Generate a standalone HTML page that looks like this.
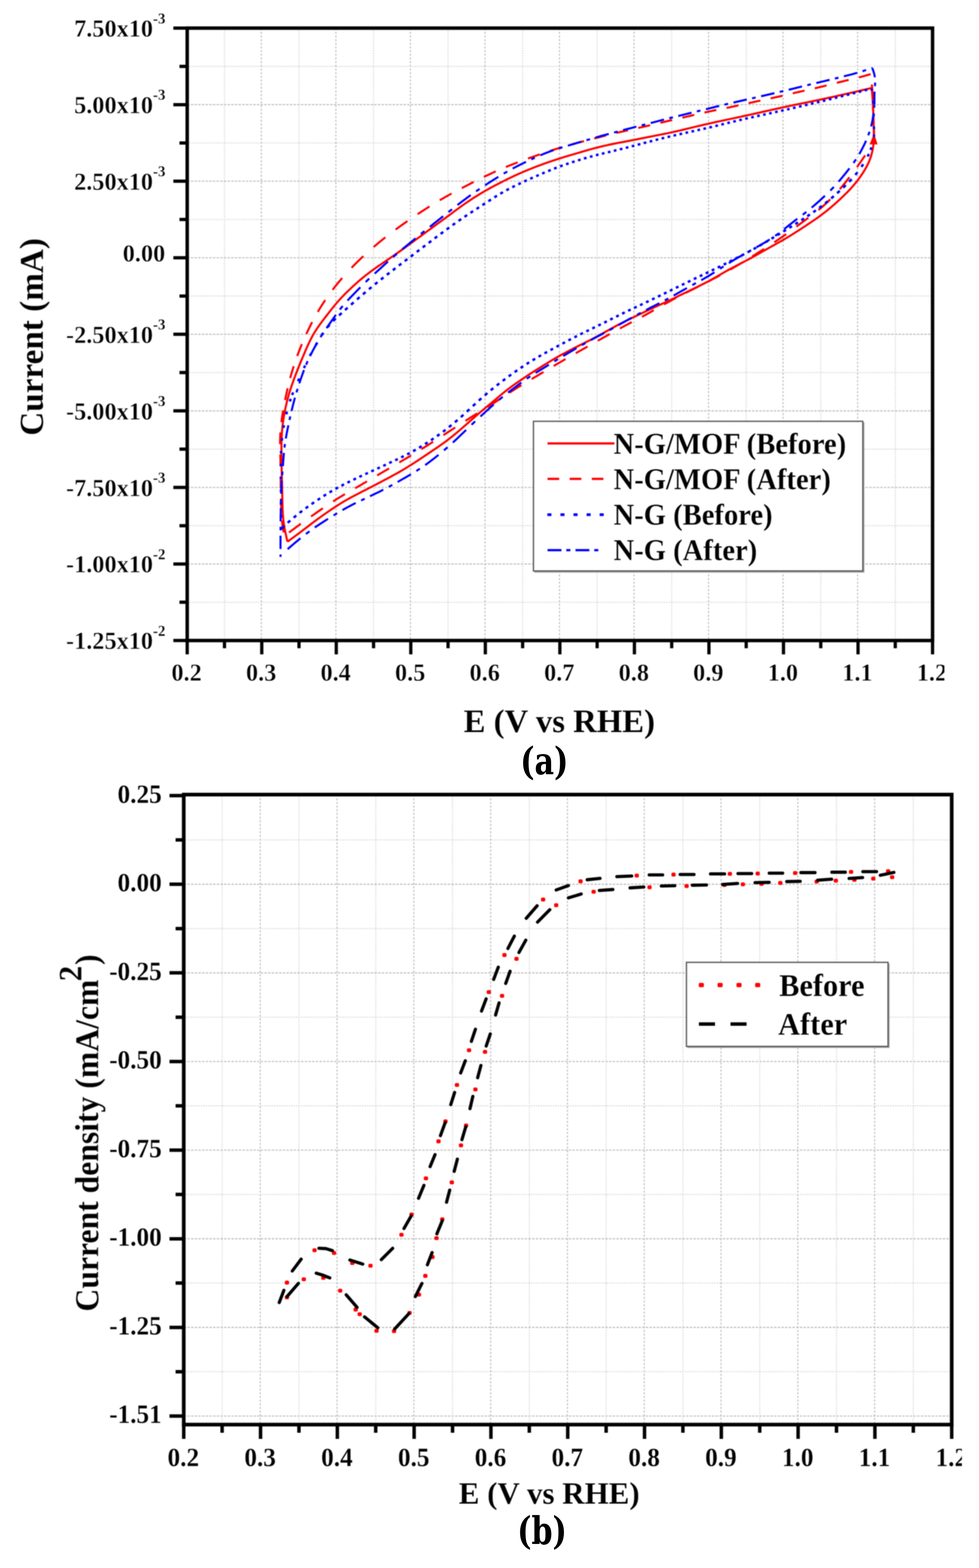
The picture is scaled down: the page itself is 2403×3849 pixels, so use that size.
<!DOCTYPE html>
<html lang="en"><head><meta charset="utf-8"><title>Figure: CV and LSV curves before and after</title>
<style>html,body{margin:0;padding:0;background:#fff}body{width:2403px;height:3849px;overflow:hidden}svg{display:block}text{font-family:'Liberation Serif', 'DejaVu Serif', serif;font-weight:bold;fill:#000}.tk text{stroke:#fff;stroke-width:0.8px}.tk.b text{stroke-width:0.35px}.tk tspan{stroke-width:0.4px}.lg text{stroke:#fff;stroke-width:0.4px}.tt{stroke:#fff;stroke-width:0.25px}</style></head><body>
<svg width="2403" height="3849" viewBox="0 0 2403 3849" role="img" aria-label="Cyclic voltammetry (a) and linear sweep voltammetry (b) curves">
<defs><filter id="bl" x="-2%" y="-2%" width="104%" height="104%" color-interpolation-filters="sRGB"><feGaussianBlur stdDeviation="0.8"/></filter></defs>
<rect width="2403" height="3849" fill="#fff"/>
<g id="chart-a" filter="url(#bl)">
<path d="M551 69V1572.3M733.9 69V1572.3M916.9 69V1572.3M1099.8 69V1572.3M1282.8 69V1572.3M1465.7 69V1572.3M1648.7 69V1572.3M1831.6 69V1572.3M2014.6 69V1572.3M2197.5 69V1572.3M459.5 163H2289M459.5 350.9H2289M459.5 538.8H2289M459.5 726.7H2289M459.5 914.6H2289M459.5 1102.5H2289M459.5 1290.4H2289M459.5 1478.3H2289" fill="none" stroke="#d8d8d8" stroke-width="2.8" stroke-dasharray="3 3"/>
<path d="M641.5 69V1572.3M824.4 69V1572.3M1007.3 69V1572.3M1190.3 69V1572.3M1373.2 69V1572.3M1556.2 69V1572.3M1739.1 69V1572.3M1922.1 69V1572.3M2105.1 69V1572.3" fill="none" stroke="#bebebe" stroke-width="2.6" stroke-dasharray="5 4"/>
<path d="M459.5 256.9H2289M459.5 444.8H2289M459.5 632.7H2289M459.5 820.6H2289M459.5 1008.6H2289M459.5 1196.5H2289M459.5 1384.4H2289" fill="none" stroke="#bebebe" stroke-width="2.6" stroke-dasharray="6 3"/>
<path d="M705.6 1329.8 L704.2 1323.7 L702.8 1317.5 L701.5 1311.5 L700.2 1305.4 L699 1299.4 L698 1293.4 L697 1287.4 L696.2 1281.3 L695.4 1275.3 L694.8 1269.2 L694.3 1263.1 L694 1256.9 L693.7 1250.8 L693.5 1244.6 L693.3 1238.4 L693.2 1232.2 L693 1226 L692.9 1219.9 L692.8 1213.8 L692.7 1207.8 L692.6 1201.7 L692.4 1195.7 L692.3 1189.6 L692.1 1183.4 L691.9 1177.2 L691.8 1171 L691.6 1164.7 L691.5 1158.4 L691.3 1152 L691.2 1145.7 L691.1 1139.3 L691 1133 L690.9 1126.7 L690.9 1120.5 L690.8 1114.2 L690.8 1108.1 L690.8 1102 L690.8 1095.9 L690.9 1089.8 L691 1083.8 L691.2 1077.8 L691.4 1071.8 L691.7 1065.8 L692.1 1059.8 L692.7 1053.7 L693.3 1047.6 L694 1041.5 L694.8 1035.4 L695.7 1029.2 L696.7 1023.1 L697.8 1016.9 L698.9 1010.7 L700.1 1004.6 L701.4 998.5 L702.8 992.4 L704.2 986.3 L705.7 980.3 L707.4 974.3 L709 968.4 L710.8 962.4 L712.7 956.5 L714.6 950.6 L716.6 944.7 L718.7 938.8 L720.8 932.9 L723 927 L725.2 921.2 L727.4 915.3 L729.7 909.4 L732 903.5 L734.4 897.6 L736.8 891.7 L739.2 885.8 L741.7 879.9 L744.1 874.1 L746.6 868.4 L749 862.6 L751.5 857 L753.9 851.4 L756.4 845.9 L759 840.5 L761.6 835.1 L764.3 829.8 L767.1 824.5 L770.1 819.3 L773.3 814 L776.6 808.8 L780.1 803.6 L783.7 798.5 L787.4 793.4 L791.2 788.3 L795 783.3 L798.7 778.4 L802.5 773.6 L806.1 768.9 L809.7 764.2 L813.3 759.7 L816.9 755.2 L820.5 750.8 L824.1 746.5 L827.8 742.1 L831.7 737.7 L835.6 733.4 L839.8 728.9 L844 724.5 L848.4 720.1 L852.9 715.6 L857.5 711.2 L862.2 706.7 L866.8 702.4 L871.6 698.1 L876.3 693.8 L881 689.7 L885.7 685.7 L890.5 681.8 L895.2 677.9 L900 674.1 L904.8 670.4 L909.7 666.7 L914.6 663.1 L919.6 659.5 L924.6 656 L929.7 652.4 L934.8 649 L939.9 645.5 L945 642 L950 638.6 L955.1 635.1 L960.1 631.7 L965.1 628.3 L970.1 624.8 L975 621.3 L979.9 617.9 L984.8 614.4 L989.7 610.9 L994.5 607.4 L999.4 603.8 L1004.2 600.3 L1009.1 596.7 L1014 593.2 L1018.8 589.6 L1023.7 586 L1028.6 582.4 L1033.5 578.9 L1038.4 575.3 L1043.3 571.7 L1048.2 568.1 L1053.1 564.5 L1058 560.9 L1062.9 557.3 L1067.9 553.7 L1072.8 550.1 L1077.7 546.5 L1082.6 542.9 L1087.5 539.3 L1092.5 535.7 L1097.4 532.1 L1102.3 528.5 L1107.1 524.9 L1112 521.2 L1116.9 517.6 L1121.8 514 L1126.7 510.4 L1131.6 506.8 L1136.6 503.3 L1141.6 499.8 L1146.6 496.3 L1151.7 492.9 L1156.7 489.6 L1161.8 486.2 L1167 483 L1172.1 479.8 L1177.3 476.6 L1182.5 473.5 L1187.7 470.4 L1192.9 467.4 L1198.2 464.5 L1203.4 461.5 L1208.7 458.6 L1214.1 455.8 L1219.4 453 L1224.8 450.2 L1230.3 447.4 L1235.7 444.6 L1241.2 441.9 L1246.8 439.1 L1252.4 436.4 L1258 433.8 L1263.7 431.1 L1269.3 428.5 L1275 426 L1280.7 423.5 L1286.4 421 L1292.2 418.6 L1297.9 416.3 L1303.6 414 L1309.2 411.7 L1314.9 409.5 L1320.6 407.4 L1326.2 405.3 L1331.9 403.2 L1337.5 401.2 L1343.2 399.1 L1348.9 397.2 L1354.6 395.2 L1360.4 393.3 L1366.3 391.3 L1372.2 389.5 L1378.1 387.6 L1384 385.7 L1390 383.9 L1396 382.1 L1402 380.3 L1408 378.6 L1414 376.8 L1419.9 375.1 L1425.7 373.3 L1431.5 371.6 L1437.3 370 L1443 368.3 L1448.7 366.7 L1454.4 365.2 L1460.1 363.6 L1465.9 362.2 L1471.6 360.7 L1477.5 359.3 L1483.4 357.9 L1489.3 356.6 L1495.4 355.3 L1501.4 354 L1507.5 352.7 L1513.6 351.5 L1519.7 350.3 L1525.9 349.2 L1532 348 L1538 346.8 L1544.1 345.7 L1550.1 344.5 L1556.2 343.4 L1562.2 342.2 L1568.1 341 L1574 339.8 L1579.9 338.7 L1585.7 337.5 L1591.5 336.3 L1597.2 335.2 L1603 334.1 L1608.8 332.9 L1614.7 331.8 L1620.5 330.6 L1626.4 329.5 L1632.3 328.3 L1638.2 327.1 L1644 325.9 L1649.9 324.6 L1655.8 323.3 L1661.7 322 L1667.6 320.6 L1673.5 319.2 L1679.4 317.8 L1685.4 316.3 L1691.4 314.9 L1697.5 313.4 L1703.6 311.9 L1709.8 310.4 L1716.1 309 L1722.3 307.5 L1728.5 306 L1734.6 304.6 L1740.7 303.2 L1746.8 301.9 L1752.8 300.5 L1758.7 299.2 L1764.7 297.9 L1770.6 296.7 L1776.5 295.4 L1782.4 294.1 L1788.4 292.9 L1794.3 291.6 L1800.2 290.4 L1806.1 289.1 L1812.1 287.8 L1818 286.6 L1823.9 285.3 L1829.8 284 L1835.7 282.7 L1841.6 281.4 L1847.5 280.1 L1853.3 278.8 L1859.2 277.5 L1865.1 276.2 L1870.9 274.8 L1876.8 273.5 L1882.6 272.2 L1888.5 270.9 L1894.3 269.6 L1900.2 268.3 L1906.1 267 L1912.1 265.7 L1918.1 264.4 L1924.1 263.1 L1930.3 261.7 L1936.5 260.4 L1942.7 259.1 L1949 257.8 L1955.2 256.5 L1961.5 255.2 L1967.7 253.9 L1973.9 252.7 L1980 251.4 L1986 250.2 L1992 248.9 L1998 247.7 L2003.9 246.4 L2009.8 245.2 L2015.7 244 L2021.5 242.7 L2027.4 241.5 L2033.1 240.2 L2038.9 239 L2044.7 237.7 L2050.5 236.4 L2056.3 235.1 L2062.2 233.8 L2068.1 232.5 L2074.1 231.1 L2080.1 229.8 L2086.2 228.4 L2092.4 227 L2098.5 225.6 L2104.6 224.1 L2110.7 222.7 L2116.6 221.3 L2122.5 220 L2128.2 218.6 L2133.9 217.3 L2139.5 216 L2140 221.7 L2140.6 227.4 L2141.1 233.1 L2141.5 238.9 L2141.9 244.9 L2142.3 250.9 L2142.7 257.1 L2143 263.3 L2143.2 269.5 L2143.5 275.7 L2143.7 281.9 L2144 288 L2144.2 294.1 L2144.4 300.2 L2144.6 306.2 L2144.8 312.2 L2145 318.2 L2145.1 324.1 L2145.2 330.1 L2145.4 336 L2145.1 342 L2144.6 348 L2144 354 L2143.2 360.1 L2142.2 366.1 L2141 372.1 L2139.5 378.1 L2137.8 384.1 L2135.7 390 L2133.4 395.9 L2130.8 401.7 L2128 407.4 L2124.9 412.9 L2121.7 418.4 L2118.4 423.8 L2114.9 429 L2111.4 434.2 L2107.7 439.2 L2104 444.2 L2100.1 449 L2096.2 453.7 L2092.2 458.4 L2088.1 463 L2083.8 467.5 L2079.5 471.9 L2075.1 476.3 L2070.7 480.7 L2066.1 485 L2061.6 489.4 L2056.9 493.6 L2052.2 497.9 L2047.5 502.1 L2042.7 506.2 L2038 510.3 L2033.1 514.3 L2028.3 518.2 L2023.4 522.1 L2018.5 525.8 L2013.5 529.5 L2008.5 533.2 L2003.5 536.8 L1998.4 540.3 L1993.3 543.8 L1988.1 547.3 L1982.9 550.7 L1977.7 554.2 L1972.5 557.6 L1967.3 561 L1962.2 564.3 L1957 567.6 L1951.9 570.9 L1946.8 574.1 L1941.7 577.3 L1936.6 580.5 L1931.4 583.6 L1926.2 586.7 L1920.9 589.7 L1915.5 592.8 L1910.1 595.8 L1904.6 598.9 L1899.1 602 L1893.6 605 L1888.1 608.1 L1882.6 611.2 L1877.2 614.2 L1871.9 617.3 L1866.6 620.3 L1861.3 623.3 L1856 626.3 L1850.7 629.3 L1845.4 632.3 L1840 635.2 L1834.6 638.1 L1829.2 640.9 L1823.7 643.8 L1818.2 646.6 L1812.7 649.4 L1807.2 652.2 L1801.8 655.1 L1796.5 657.9 L1791.2 660.8 L1785.9 663.7 L1780.7 666.6 L1775.5 669.6 L1770.3 672.6 L1765.1 675.7 L1759.8 678.7 L1754.5 681.8 L1749.1 684.8 L1743.6 687.9 L1738.1 690.9 L1732.5 693.8 L1726.8 696.7 L1721 699.6 L1715.3 702.4 L1709.5 705.2 L1703.8 708 L1698.1 710.7 L1692.4 713.4 L1686.8 716.2 L1681.2 718.9 L1675.8 721.6 L1670.4 724.2 L1665.1 726.8 L1659.9 729.4 L1654.7 731.9 L1649.5 734.4 L1644.3 736.9 L1639 739.3 L1633.8 741.7 L1628.5 744.2 L1623.1 746.6 L1617.6 749.1 L1612.1 751.6 L1606.4 754.2 L1600.7 756.9 L1595 759.6 L1589.3 762.3 L1583.5 765 L1577.7 767.8 L1572 770.5 L1566.3 773.2 L1560.7 775.9 L1555.1 778.6 L1549.6 781.3 L1544.1 783.9 L1538.7 786.6 L1533.3 789.2 L1528 791.9 L1522.6 794.7 L1517.2 797.5 L1511.9 800.3 L1506.5 803.2 L1501.1 806.2 L1495.7 809.2 L1490.3 812.2 L1484.9 815.2 L1479.5 818.2 L1474.1 821.2 L1468.7 824.2 L1463.3 827 L1457.9 829.9 L1452.6 832.7 L1447.2 835.4 L1441.9 838.1 L1436.5 840.8 L1431.1 843.6 L1425.6 846.3 L1420.1 849 L1414.7 851.8 L1409.1 854.6 L1403.6 857.4 L1398.1 860.3 L1392.6 863.2 L1387.1 866.1 L1381.6 869 L1376.1 872 L1370.7 875 L1365.4 878 L1360.1 881.1 L1354.9 884.2 L1349.7 887.3 L1344.6 890.4 L1339.5 893.6 L1334.4 896.7 L1329.4 899.9 L1324.3 903.1 L1319.3 906.2 L1314.2 909.4 L1309.1 912.7 L1304 915.9 L1298.9 919.2 L1293.7 922.6 L1288.5 926.1 L1283.3 929.6 L1278.1 933.1 L1272.8 936.7 L1267.6 940.4 L1262.4 944 L1257.3 947.7 L1252.3 951.4 L1247.4 955.1 L1242.7 958.7 L1238.1 962.4 L1233.6 966 L1229.1 969.7 L1224.7 973.4 L1220.3 977.1 L1215.9 980.8 L1211.4 984.6 L1206.9 988.4 L1202.2 992.3 L1197.6 996.2 L1192.8 1000.1 L1188.1 1004.1 L1183.3 1008.1 L1178.6 1012.1 L1173.8 1016.2 L1169.2 1020.2 L1164.5 1024.3 L1159.9 1028.4 L1155.2 1032.5 L1150.6 1036.5 L1146 1040.6 L1141.3 1044.7 L1136.6 1048.8 L1132 1052.8 L1127.3 1056.8 L1122.6 1060.8 L1117.9 1064.8 L1113.1 1068.7 L1108.4 1072.5 L1103.6 1076.3 L1098.8 1080 L1094 1083.7 L1089.1 1087.3 L1084.2 1090.8 L1079.2 1094.3 L1074.2 1097.8 L1069.1 1101.2 L1064 1104.7 L1058.8 1108.1 L1053.7 1111.6 L1048.4 1115.1 L1043.2 1118.6 L1038 1122.1 L1032.7 1125.6 L1027.5 1129.1 L1022.2 1132.6 L1017 1136 L1011.7 1139.4 L1006.5 1142.7 L1001.2 1146 L996 1149.2 L990.7 1152.4 L985.5 1155.4 L980.2 1158.5 L974.9 1161.5 L969.6 1164.4 L964.2 1167.3 L958.9 1170.2 L953.5 1173.1 L948.2 1176 L942.8 1178.8 L937.5 1181.6 L932.1 1184.5 L926.7 1187.3 L921.3 1190.1 L915.9 1192.9 L910.5 1195.8 L905 1198.6 L899.5 1201.4 L893.9 1204.3 L888.3 1207.1 L882.8 1210 L877.2 1212.9 L871.7 1215.7 L866.2 1218.6 L860.8 1221.5 L855.5 1224.5 L850.2 1227.4 L845 1230.4 L840 1233.4 L835 1236.5 L830 1239.6 L825 1242.8 L820.1 1246.1 L815.1 1249.4 L810.1 1252.8 L805.1 1256.2 L800 1259.7 L794.9 1263.3 L789.7 1267 L784.6 1270.7 L779.4 1274.4 L774.3 1278.2 L769.2 1282 L764.2 1285.8 L759.2 1289.7 L754.2 1293.5 L749.2 1297.3 L744.3 1301 L739.4 1304.8 L734.5 1308.5 L729.7 1312.1 L724.8 1315.7 L720 1319.3 L715.2 1322.8 L710.4 1326.3 L705.6 1329.8" fill="none" stroke="#ff0000" stroke-width="5" stroke-linejoin="round"/>
<path d="M2145.3 327L2154 354.5H2134.5Z" fill="#ff0000"/>
<path d="M696.3 1307 L695 1299.8 L693.8 1292.5 L692.9 1285.3 L692.1 1278M690.4 1252.9 L690.2 1245.6 L689.9 1238.4 L689.7 1231.1 L689.6 1223.9M689.2 1198.7 L689.1 1191.5 L689 1184.2 L689 1177 L688.9 1169.7M688.6 1144.6 L688.5 1137.3 L688.4 1130.1 L688.2 1122.8 L688 1115.6M687.5 1090.4 L687.5 1083.2 L687.7 1075.9 L687.9 1068.7 L688.3 1061.4M690.7 1036.3 L691.6 1029 L692.6 1021.8 L693.8 1014.5 L695 1007.3M699.7 982.1 L701.2 974.9 L702.8 967.6 L704.4 960.4 L706.1 953.1M712.3 928 L714.3 920.7 L716.4 913.5 L718.6 906.2 L720.9 899M729.5 873.8 L732.2 866.6 L735 859.3 L737.9 852.1 L740.9 844.8M752 819.7 L755.4 812.4 L758.9 805.2 L762.5 797.9 L766.2 790.7M780.1 765.5 L784.4 758.3 L788.9 751 L793.5 743.8 L798.3 736.5M816.4 711.4 L822 704.1 L827.8 696.9 L833.8 689.6 L840 682.4M863 657.2 L870 650 L877.3 642.8 L884.5 635.7 L891.8 628.8M916.9 606.4 L924.2 600.3 L931.4 594.2 L938.7 588.4 L945.9 582.6M971.1 563.5 L978.3 558.2 L985.6 553 L992.8 547.9 L1000.1 542.8M1025.2 525.7 L1032.5 520.9 L1039.7 516.2 L1047 511.5 L1054.2 506.9M1079.4 491.5 L1086.6 487.3 L1093.9 483.1 L1101.1 479.1 L1108.4 475.1M1133.5 461.7 L1140.8 458 L1148 454.2 L1155.3 450.5 L1162.5 446.8M1187.7 434.3 L1194.9 430.8 L1202.2 427.4 L1209.4 424 L1216.7 420.8M1241.8 409.9 L1249.1 407 L1256.3 404.1 L1263.6 401.2 L1270.8 398.5M1296 389.2 L1303.2 386.6 L1310.5 384 L1317.7 381.5 L1325 378.9M1350.1 370.4 L1357.4 368.1 L1364.6 365.8 L1371.9 363.5 L1379.1 361.3M1404.3 354.1 L1411.5 352.2 L1418.8 350.2 L1426 348.3 L1433.3 346.3M1458.4 339.9 L1465.7 338 L1472.9 336.2 L1480.2 334.4 L1487.4 332.5M1512.6 326.4 L1519.8 324.6 L1527.1 323 L1534.3 321.3 L1541.6 319.7M1566.7 314.1 L1574 312.4 L1581.2 310.8 L1588.5 309.1 L1595.7 307.4M1620.9 301.4 L1628.1 299.7 L1635.4 298 L1642.6 296.3 L1649.9 294.6M1675 288.7 L1682.3 287.1 L1689.5 285.4 L1696.8 283.7 L1704 282M1729.2 276.2 L1736.4 274.6 L1743.7 273.1 L1750.9 271.5 L1758.2 270M1783.3 264.9 L1790.6 263.5 L1797.8 261.9 L1805.1 260.4 L1812.3 258.8M1837.5 253.2 L1844.7 251.6 L1852 250 L1859.2 248.4 L1866.5 246.9M1891.6 241.5 L1898.9 239.9 L1906.1 238.3 L1913.4 236.7 L1920.6 235M1945.8 229.1 L1953 227.4 L1960.3 225.7 L1967.5 224.1 L1974.8 222.4M1999.9 216.8 L2007.2 215.1 L2014.4 213.3 L2021.7 211.6 L2028.9 209.7M2054.1 203.3 L2061.3 201.5 L2068.6 199.7 L2075.8 197.9 L2083.1 196.2M2108.2 190 L2115.5 188.1 L2122.7 186.1 L2130 184 L2137 182.2M2140 207.4 L2140.6 214.6 L2141.1 221.9 L2141.5 229.1 L2141.8 236.4M2142.8 261.5 L2143.1 268.8 L2143.4 276 L2143.8 283.3 L2144.1 290.5M2145 315.7 L2145 322.9 L2144.9 330.2 L2144.6 337.4 L2144.3 344.7M2123.5 381.5 L2118.5 388.7 L2113.6 395.8 L2108.6 403 L2103.5 410.1M2084.9 435.3 L2079.3 442.5 L2073.5 449.8 L2067.5 457 L2061.3 464.3M2037.9 489.4 L2030.7 496.5 L2023.4 503.2 L2016.2 509.5 L2008.9 515.5M1983.8 534.8 L1976.5 540.2 L1969.3 545.5 L1962 550.9 L1954.8 556.3M1929.6 574.6 L1922.4 579.7 L1915.1 584.8 L1907.9 589.7 L1900.6 594.6M1875.5 611 L1868.2 615.6 L1861 620.2 L1853.7 624.8 L1846.5 629.3M1821.3 644.8 L1814.1 649.1 L1806.8 653.4 L1799.6 657.6 L1792.3 661.8M1767.2 675.8 L1759.9 679.7 L1752.7 683.6 L1745.4 687.4 L1738.2 691.2M1713 704 L1705.8 707.6 L1698.5 711.2 L1691.3 714.9 L1684 718.5M1658.9 731.4 L1651.6 735.3 L1644.4 739.2 L1637.1 743.2 L1629.9 747.2M1604.7 761.6 L1597.5 765.7 L1590.2 769.7 L1583 773.7 L1575.7 777.6M1550.6 790.8 L1543.3 794.7 L1536.1 798.5 L1528.8 802.4 L1521.6 806.4M1496.4 820.2 L1489.2 824.3 L1481.9 828.3 L1474.7 832.4 L1467.4 836.4M1442.3 850.6 L1435 854.7 L1427.8 858.8 L1420.5 862.9 L1413.3 867M1388.1 881.4 L1380.9 885.6 L1373.6 889.8 L1366.4 894 L1359.1 898.3M1334 913.2 L1326.7 917.5 L1319.5 921.8 L1312.2 926.1 L1305 930.4M1279.8 945.5 L1272.6 949.9 L1265.3 954.5 L1258.1 959.1 L1250.8 963.8M1225.7 980.3 L1218.4 985.1 L1211.2 989.8 L1203.9 994.4 L1196.7 999M1171.5 1014.6 L1164.3 1019.1 L1157 1023.7 L1149.8 1028.3 L1142.5 1033M1117.4 1049.3 L1110.1 1054 L1102.9 1058.7 L1095.6 1063.4 L1088.4 1068.2M1063.2 1084.4 L1056 1089 L1048.7 1093.6 L1041.5 1098.1 L1034.2 1102.6M1009.1 1117.9 L1001.8 1122.3 L994.6 1126.6 L987.3 1130.9 L980.1 1135.2M954.9 1150 L947.7 1154.2 L940.4 1158.4 L933.2 1162.7 L925.9 1167M900.8 1181.7 L893.5 1185.9 L886.3 1190.1 L879 1194.3 L871.8 1198.4M846.6 1212.9 L839.4 1217.3 L832.1 1221.7 L824.9 1226.2 L817.6 1230.8M792.5 1247.6 L785.2 1252.6 L778 1257.6 L770.7 1262.7 L763.5 1267.8M738.3 1285.8 L731.1 1291.1 L723.8 1296.4 L716.6 1301.8 L709.3 1307.3" fill="none" stroke="#ff0000" stroke-width="5"/>
<path d="M689.6 1299 L689.6 1295.8M689.6 1270.7 L689.6 1264.3M689.6 1239.2 L689.6 1232.8M689.6 1207.7 L689.6 1201.3M689.5 1176.2 L689.5 1169.8M689.4 1144.7 L689.4 1138.3M689.8 1113.2 L690 1106.8M691.6 1081.7 L692.3 1075.3M695.8 1050.2 L696.9 1043.8M702.8 1017 L704.3 1010.5M711.5 985.5 L713.6 979M717 969.6 L719.5 963.2M731.4 935.8 L734.3 929.4M746 903.5 L749 897.2M760.5 873.8 L763.9 867.4M775 847.3 L778.7 840.9M789.4 823.2 L793.7 816.8M803.5 803.7 L809 797.3M817.6 788.1 L824 781.9M832.3 774.2 L838.7 768.4M846.9 761 L853.3 755.4M861.6 748 L868 742.3M876.3 735 L882.7 729.6M890.9 722.5 L897.3 717.1M905.6 710.1 L912 704.8M920.2 697.9 L926.6 692.7M934.9 686.1 L941.3 681.1M949.6 674.6 L956 669.7M964.2 663.3 L970.6 658.4M978.9 652 L985.3 647.1M993.5 640.8 L999.9 636M1008.2 629.7 L1014.6 624.8M1022.9 618.5 L1029.3 613.6M1037.5 607.4 L1043.9 602.5M1052.2 596.3 L1058.6 591.4M1066.8 585.2 L1073.2 580.4M1081.5 574.2 L1087.9 569.4M1096.2 563.3 L1102.6 558.6M1110.8 552.6 L1117.2 548.1M1125.5 542.2 L1131.9 537.8M1140.1 532.2 L1146.5 527.9M1154.8 522.4 L1161.2 518.3M1169.5 512.9 L1175.9 508.8M1184.1 503.4 L1190.5 499.3M1198.8 493.9 L1205.2 489.8M1213.4 484.5 L1219.8 480.5M1228.1 475.5 L1234.5 471.8M1242.8 467.2 L1249.2 463.7M1257.4 459.5 L1263.8 456.3M1272.1 452.3 L1278.5 449.3M1286.7 445.5 L1293.1 442.5M1301.4 438.8 L1307.8 436M1316.1 432.4 L1322.5 429.6M1330.7 426.1 L1337.1 423.4M1345.4 419.9 L1351.8 417.3M1360 414 L1366.4 411.5M1374.7 408.4 L1381.1 406.1M1389.4 403.3 L1395.8 401.1M1404 398.4 L1410.4 396.3M1418.7 393.7 L1425.1 391.7M1433.3 389.2 L1439.7 387.3M1448 385 L1454.4 383.3M1462.7 381.1 L1469.1 379.4M1477.3 377.4 L1483.7 375.8M1492 373.8 L1498.4 372.3M1506.6 370.3 L1513 368.7M1521.3 366.7 L1527.7 365.1M1536 363 L1542.4 361.3M1550.6 359.2 L1557 357.5M1565.3 355.3 L1571.7 353.6M1579.9 351.3 L1586.3 349.6M1594.6 347.4 L1601 345.8M1609.3 343.6 L1615.7 342M1623.9 339.9 L1630.3 338.4M1638.6 336.4 L1645 334.8M1653.2 332.9 L1659.6 331.4M1667.9 329.5 L1674.3 328.1M1682.6 326.2 L1689 324.8M1697.2 322.9 L1703.6 321.5M1711.9 319.6 L1718.3 318.2M1726.5 316.3 L1732.9 314.8M1741.2 312.9 L1747.6 311.3M1755.9 309.4 L1762.3 307.8M1770.5 305.8 L1776.9 304.2M1785.2 302.2 L1791.6 300.6M1799.8 298.6 L1806.2 297.1M1814.5 295.1 L1820.9 293.6M1829.2 291.6 L1835.6 290.1M1843.8 288.3 L1850.2 286.8M1858.5 285 L1864.9 283.6M1873.1 281.8 L1879.5 280.4M1887.8 278.6 L1894.2 277.2M1902.5 275.4 L1908.9 273.9M1917.1 272.1 L1923.5 270.6M1931.8 268.7 L1938.2 267.3M1946.4 265.4 L1952.8 263.9M1961.1 261.9 L1967.5 260.4M1975.8 258.5 L1982.2 256.9M1990.4 255 L1996.8 253.4M2005.1 251.4 L2011.5 249.9M2019.7 247.9 L2026.1 246.3M2034.4 244.2 L2040.8 242.6M2049.1 240.6 L2055.5 238.9M2063.7 236.9 L2070.1 235.2M2078.4 233.2 L2084.8 231.6M2093 229.5 L2099.4 227.9M2107.7 225.7 L2114.1 224.1M2122.4 221.9 L2128.8 220.2M2138.8 217.5 L2140.6 222.4M2142.9 247.5 L2143.3 253.9M2144.4 279 L2144.5 285.4M2145.1 310.5 L2145.2 316.9M2145.4 330.1 L2145.4 333.3M2145.4 333.3 L2144.8 336.5M2139 361.6 L2136.9 368M2132.8 377.9 L2129.7 384.3M2118.8 403.2 L2114.5 409.6M2104.6 423 L2099.4 429.4M2090.3 439.8 L2084.3 446.2M2075.9 454.6 L2069.5 460.7M2061.2 468.4 L2054.8 474.2M2046.6 481.5 L2040.2 487M2031.9 494 L2025.5 499.1M2017.2 505.6 L2010.8 510.4M2002.6 516.4 L1996.2 520.9M1987.9 526.5 L1981.5 530.8M1973.3 536.3 L1966.9 540.5M1958.6 546 L1952.2 550.1M1943.9 555.3 L1937.5 559.3M1929.3 564.4 L1922.9 568.3M1914.6 573.3 L1908.2 577.1M1900 582.1 L1893.6 585.9M1885.3 590.8 L1878.9 594.6M1870.6 599.5 L1864.2 603.2M1856 607.9 L1849.6 611.5M1841.3 616 L1834.9 619.5M1826.7 623.8 L1820.3 627.1M1812 631.4 L1805.6 634.6M1797.3 638.8 L1790.9 642.1M1782.7 646.3 L1776.3 649.5M1768 653.7 L1761.6 656.8M1753.4 660.9 L1747 664M1738.7 668 L1732.3 671.1M1724 675 L1717.6 678.1M1709.4 682 L1703 685.1M1694.7 689.1 L1688.3 692.3M1680.1 696.3 L1673.7 699.4M1665.4 703.5 L1659 706.6M1650.7 710.7 L1644.3 713.8M1636.1 717.8 L1629.7 721M1621.4 725 L1615 728.1M1606.8 732.1 L1600.4 735.2M1592.1 739.1 L1585.7 742.2M1577.4 746.1 L1571 749.1M1562.8 753 L1556.4 756M1548.1 759.9 L1541.7 762.9M1533.5 766.9 L1527.1 770M1518.8 774.1 L1512.4 777.3M1504.1 781.4 L1497.7 784.6M1489.5 788.8 L1483.1 792M1474.8 796.1 L1468.4 799.2M1460.2 803.2 L1453.8 806.3M1445.5 810.3 L1439.1 813.4M1430.8 817.4 L1424.4 820.6M1416.2 824.8 L1409.8 828.1M1401.5 832.4 L1395.1 835.7M1386.9 840.1 L1380.5 843.5M1372.2 847.9 L1365.8 851.4M1357.5 855.8 L1351.1 859.3M1342.9 863.8 L1336.5 867.4M1328.2 872 L1321.8 875.7M1313.6 880.6 L1307.2 884.4M1298.9 889.6 L1292.5 893.6M1284.2 899 L1277.8 903.3M1269.6 908.9 L1263.2 913.4M1254.9 919.3 L1248.5 923.9M1240.3 930.1 L1233.9 934.9M1225.6 941.2 L1219.2 946.2M1210.9 952.8 L1204.5 958M1196.3 964.9 L1189.9 970.4M1181.6 977.6 L1175.2 983.4M1167 990.9 L1160.6 996.9M1152.3 1004.6 L1145.9 1010.5M1137.6 1018.1 L1131.2 1023.9M1123 1031.1 L1116.6 1036.6M1108.3 1043.4 L1101.9 1048.5M1093.7 1055 L1087.3 1059.8M1079 1066 L1072.6 1070.5M1064.3 1076.3 L1057.9 1080.6M1049.7 1086 L1043.3 1090.1M1035 1095.2 L1028.6 1099.1M1020.4 1103.9 L1014 1107.6M1005.7 1112.1 L999.3 1115.5M991 1119.7 L984.6 1122.8M976.4 1126.8 L970 1129.8M961.7 1133.7 L955.3 1136.7M947.1 1140.6 L940.7 1143.6M932.4 1147.4 L926 1150.4M917.7 1154.2 L911.3 1157.1M903.1 1160.9 L896.7 1163.9M888.4 1167.7 L882 1170.7M873.8 1174.5 L867.4 1177.6M859.1 1181.6 L852.7 1184.8M844.4 1188.9 L838 1192.3M829.8 1196.7 L823.4 1200.2M815.1 1204.9 L808.7 1208.7M800.5 1213.8 L794.1 1217.8M785.8 1223.2 L779.4 1227.4M771.1 1233 L764.7 1237.4M756.5 1243.2 L750.1 1247.8M741.8 1254 L735.4 1258.8M727.2 1265.4 L720.8 1270.7M712.5 1277.7 L706.1 1283.4M697.8 1291 L691.4 1297.1M692.8 1295.8 L689.6 1298.8" fill="none" stroke="#0000ff" stroke-width="5.9"/>
<path d="M688.6 1367 L688.6 1360.9M688.6 1347.5 L688.5 1341 L688.5 1334.5 L688.5 1328 L688.5 1321.4 L688.6 1314.9M688.6 1301.9 L688.7 1293.1M688.8 1279.8 L688.9 1273.3 L689 1266.7 L689.1 1260.2 L689.2 1253.7 L689.3 1247.2M689.5 1234.2 L689.7 1225.4M690.1 1212 L690.3 1205.5 L690.5 1199 L690.9 1192.5 L691.2 1185.9 L691.7 1179.4M692.6 1166.4 L693.4 1157.6M694.4 1144.3 L694.9 1137.8 L695.3 1131.2 L695.8 1124.7 L696.3 1118.2 L696.9 1111.7M698.2 1098.7 L699.4 1089.9M701.5 1076.5 L702.6 1070 L703.9 1063.5 L705.1 1057 L706.5 1050.4 L707.8 1043.9M710.6 1030.9 L712.5 1022.1M715.6 1008.8 L717.2 1002.3 L718.8 995.7 L720.5 989.2 L722.2 982.7 L724 976.2M727.7 963.2 L730.4 954.4M734.7 941 L736.9 934.5 L739.1 928 L741.4 921.5 L743.7 914.9 L746.1 908.4M751.3 895.4 L755.1 886.6M761.4 873.3 L764.7 866.8 L768.1 860.2 L771.6 853.7 L775.2 847.2 L778.9 840.7M786.7 827.7 L792.3 818.9M801.4 805.5 L805.9 799 L810.5 792.5 L815.1 786 L819.7 779.4 L824.4 772.9M834.1 759.9 L841.2 751.1M853 737.8 L859.2 731.3 L865.4 724.7 L871.8 718.2 L878.1 711.7 L884.5 705.2M897.5 692.3 L906.3 683.9M919.7 671.6 L926.2 665.7 L932.7 659.8 L939.2 653.9 L945.7 648 L952.3 642.2M965.3 630.6 L974.1 623M987.4 611.8 L993.9 606.5 L1000.4 601.1 L1007 595.8 L1013.5 590.4 L1020 585M1033 574.4 L1041.8 567.3M1055.2 556.7 L1061.7 551.5 L1068.2 546.3 L1074.7 541.2 L1081.2 536 L1087.8 530.8M1100.8 520.5 L1109.6 513.6M1122.9 503.2 L1129.4 498.2 L1135.9 493.3 L1142.5 488.4 L1149 483.6 L1155.5 478.9M1168.5 469.7 L1177.3 463.7M1190.7 454.8 L1197.2 450.5 L1203.7 446.3 L1210.2 442.2 L1216.7 438.1 L1223.3 434M1236.3 426.2 L1245.1 421.2M1258.4 413.8 L1264.9 410.4 L1271.4 407 L1278 403.7 L1284.5 400.5 L1291 397.3M1304 391.1 L1312.8 387.1M1326.2 381.2 L1332.7 378.5 L1339.2 375.9 L1345.7 373.4 L1352.2 371 L1358.8 368.7M1371.8 364.4 L1380.6 361.6M1393.9 357.6 L1400.4 355.7 L1406.9 353.8 L1413.5 351.9 L1420 349.9 L1426.5 348M1439.5 344.2 L1448.3 341.6M1461.7 337.7 L1468.2 335.8 L1474.7 334 L1481.2 332.2 L1487.7 330.5 L1494.3 328.8M1507.3 325.4 L1516.1 323M1529.4 319.5 L1535.9 317.7 L1542.4 316 L1549 314.3 L1555.5 312.6 L1562 310.9M1575 307.6 L1583.8 305.4M1597.2 302 L1603.7 300.3 L1610.2 298.6 L1616.7 296.9 L1623.2 295.2 L1629.8 293.5M1642.8 290.2 L1651.6 288M1664.9 284.7 L1671.4 283.1 L1677.9 281.5 L1684.5 279.9 L1691 278.3 L1697.5 276.7M1710.5 273.5 L1719.3 271.4M1732.7 268.1 L1739.2 266.5 L1745.7 264.8 L1752.2 263.2 L1758.7 261.6 L1765.3 260M1778.3 256.9 L1787.1 254.8M1800.4 251.7 L1806.9 250.3 L1813.4 248.8 L1820 247.3 L1826.5 245.8 L1833 244.3M1846 241.4 L1854.8 239.4M1868.2 236.3 L1874.7 234.8 L1881.2 233.3 L1887.7 231.8 L1894.2 230.3 L1900.8 228.7M1913.8 225.6 L1922.6 223.5M1935.9 220.3 L1942.4 218.7 L1948.9 217.1 L1955.5 215.5 L1962 213.8 L1968.5 212.2M1981.5 209.1 L1990.3 206.9M2003.7 203.7 L2010.2 202.2 L2016.7 200.6 L2023.2 199.1 L2029.7 197.5 L2036.3 196M2049.3 192.8 L2058.1 190.7M2071.4 187.4 L2077.9 185.7 L2084.4 184.1 L2091 182.4 L2097.5 180.6 L2104 178.7M2117 174.8 L2125.8 171.9M2139.2 167.2 L2140.9 166.6M2140.9 166.6 L2143.7 174.3 L2146 182 L2147.5 189.7M2148.1 202.7 L2147.6 211.5M2146.7 224.8 L2146.4 231.3 L2146.3 237.8 L2146.3 244.4 L2146.3 250.9 L2146.4 257.4M2146.4 258 L2145.7 264.5M2144.1 277.8 L2143.2 284.4 L2142.3 290.9 L2141.1 297.4 L2139.8 303.9 L2138.2 310.4M2134.3 323.4 L2131.2 332.2M2125.7 345.6 L2122.8 352.1 L2119.6 358.6 L2116.3 365.2 L2112.8 371.7 L2109.1 378.2M2101 391.2 L2095 400M2085 413.3 L2079.9 419.9 L2074.7 426.4 L2069.4 432.9 L2064 439.4 L2058.4 445.9M2046.7 458.9 L2038.1 467.7M2024.8 480.7 L2018.3 486.7 L2011.8 492.7 L2005.2 498.5 L1998.7 504.1 L1992.2 509.7M1979.2 520.2 L1970.4 527.1M1957.1 537.1 L1950.5 542 L1944 547.1 L1937.5 552.2 L1931 557.4 L1924.5 562.6M1911.5 572.7 L1902.7 579M1889.3 587.9 L1882.8 591.9 L1876.3 595.8 L1869.7 599.6 L1863.2 603.3 L1856.7 607M1843.7 614.2 L1834.9 619.1M1821.6 626.6 L1815 630.3 L1808.5 634 L1802 637.8 L1795.5 641.8 L1789 645.8M1776 654 L1767.2 659.7M1753.8 668.3 L1747.3 672.4 L1740.8 676.5 L1734.2 680.3 L1727.7 684.1 L1721.2 687.8M1708.2 694.9 L1699.4 699.7M1686.1 707.1 L1679.5 710.7 L1673 714.4 L1666.5 718.2 L1660 721.9 L1653.5 725.5M1640.5 732.7 L1631.7 737.3M1618.3 744.2 L1611.8 747.6 L1605.3 750.9 L1598.7 754.3 L1592.2 757.6 L1585.7 761.1M1572.7 768 L1563.9 772.7M1550.6 779.9 L1544 783.5 L1537.5 787.1 L1531 790.7 L1524.5 794.4 L1518 798.1M1505 805.4 L1496.2 810.3M1482.8 817.5 L1476.3 821 L1469.8 824.4 L1463.2 827.9 L1456.7 831.4 L1450.2 834.9M1437.2 842.1 L1428.4 847.1M1415.1 854.7 L1408.5 858.5 L1402 862.3 L1395.5 866.2 L1389 870 L1382.5 873.9M1369.5 881.7 L1360.7 887.1M1347.3 895.3 L1340.8 899.3 L1334.3 903.4 L1327.7 907.4 L1321.2 911.4 L1314.7 915.5M1301.7 923.8 L1292.9 929.8M1279.6 939.3 L1273 944.1 L1266.5 948.9 L1260 953.9 L1253.5 958.8 L1247 963.8M1234 974.1 L1225.2 981.3M1211.8 992.9 L1205.3 998.7 L1198.8 1004.6 L1192.2 1010.5 L1185.7 1016.5 L1179.2 1022.4M1166.2 1034.4 L1157.4 1042.6M1144.1 1055.5 L1137.5 1061.8 L1131 1068 L1124.5 1074.3 L1118 1080.4 L1111.5 1086.4M1098.5 1097.9 L1089.7 1105.5M1076.3 1116.6 L1069.8 1121.9 L1063.3 1127 L1056.7 1132 L1050.2 1136.9 L1043.7 1141.6M1030.7 1150.5 L1021.9 1156.2M1008.6 1164.3 L1002 1168.2 L995.5 1172 L989 1175.7 L982.5 1179.4 L976 1183.1M963 1190.4 L954.2 1195.1M940.8 1202.1 L934.3 1205.4 L927.8 1208.7 L921.2 1211.8 L914.7 1215 L908.2 1218.1M895.2 1224.2 L886.4 1228.4M873.1 1234.8 L866.5 1238.1 L860 1241.5 L853.5 1244.9 L847 1248.5 L840.5 1252.2M827.5 1259.9 L818.7 1265.2M805.3 1273.5 L798.8 1277.7 L792.3 1281.8 L785.7 1286.1 L779.2 1290.4 L772.7 1294.9M759.7 1304.2 L750.9 1310.8M737.6 1321.3 L731.2 1326.5 L724.9 1331.7 L718.6 1337.1 L712.3 1342.5 L706 1348" fill="none" stroke="#0000ff" stroke-width="5"/>
<rect x="1311.5" y="1037" width="810.2" height="368.7" fill="#a4a4a4"/>
<rect x="1309.4" y="1034.2" width="808.4" height="367.3" fill="#fff" stroke="#5a5a5a" stroke-width="3.2"/>
<path d="M1344 1088.5H1508" stroke="#ff0000" stroke-width="5.6" fill="none"/>
<path d="M1344 1175.5H1482" stroke="#ff0000" stroke-width="5.6" fill="none" stroke-dasharray="28.5 25.8"/>
<path d="M1343.5 1263.3H1483" stroke="#0000ff" stroke-width="6.8" fill="none" stroke-dasharray="10 22.1"/>
<path d="M1344 1350.5H1469" stroke="#0000ff" stroke-width="5.6" fill="none" stroke-dasharray="34 12 10 12.6"/>
<g class="lg">
<text transform="translate(1506 1113.6) scale(1 1.05)" font-size="70.2">N-G/MOF (Before)</text>
<text transform="translate(1506 1200.7) scale(1 1.05)" font-size="70.2">N-G/MOF (After)</text>
<text transform="translate(1506 1287.8) scale(1 1.05)" font-size="70.2">N-G (Before)</text>
<text transform="translate(1506 1374.9) scale(1 1.05)" font-size="70.2">N-G (After)</text>
</g>
<path d="M459.5 1572.3V1606.3M551 1572.3V1591.3M642.5 1572.3V1606.3M733.9 1572.3V1591.3M825.4 1572.3V1606.3M916.9 1572.3V1591.3M1008.3 1572.3V1606.3M1099.8 1572.3V1591.3M1191.3 1572.3V1606.3M1282.8 1572.3V1591.3M1374.2 1572.3V1606.3M1465.7 1572.3V1591.3M1557.2 1572.3V1606.3M1648.7 1572.3V1591.3M1740.1 1572.3V1606.3M1831.6 1572.3V1591.3M1923.1 1572.3V1606.3M2014.6 1572.3V1591.3M2106.1 1572.3V1606.3M2197.5 1572.3V1591.3M2289 1572.3V1606.3M459.5 69H425.5M459.5 163H440.5M459.5 256.9H425.5M459.5 350.9H440.5M459.5 444.8H425.5M459.5 538.8H440.5M459.5 632.7H425.5M459.5 726.7H440.5M459.5 820.6H425.5M459.5 914.6H440.5M459.5 1008.6H425.5M459.5 1102.5H440.5M459.5 1196.5H425.5M459.5 1290.4H440.5M459.5 1384.4H425.5M459.5 1478.3H440.5M459.5 1572.3H425.5" fill="none" stroke="#000" stroke-width="8"/>
<rect x="459.5" y="69" width="1829.5" height="1503.3" fill="none" stroke="#000" stroke-width="8.5"/>
<g class="tk">
<text transform="translate(406 90) scale(1 1.03)" font-size="59.6" text-anchor="end">7.50x10<tspan font-size="36.5" dy="-31.5">-3</tspan></text>
<text transform="translate(406 277.9) scale(1 1.03)" font-size="59.6" text-anchor="end">5.00x10<tspan font-size="36.5" dy="-31.5">-3</tspan></text>
<text transform="translate(406 465.8) scale(1 1.03)" font-size="59.6" text-anchor="end">2.50x10<tspan font-size="36.5" dy="-31.5">-3</tspan></text>
<text transform="translate(405.5 642.2) scale(1 1.03)" font-size="59.6" text-anchor="end">0.00</text>
<text transform="translate(406 841.6) scale(1 1.03)" font-size="59.6" text-anchor="end">-2.50x10<tspan font-size="36.5" dy="-31.5">-3</tspan></text>
<text transform="translate(406 1029.6) scale(1 1.03)" font-size="59.6" text-anchor="end">-5.00x10<tspan font-size="36.5" dy="-31.5">-3</tspan></text>
<text transform="translate(406 1217.5) scale(1 1.03)" font-size="59.6" text-anchor="end">-7.50x10<tspan font-size="36.5" dy="-31.5">-3</tspan></text>
<text transform="translate(406 1405.4) scale(1 1.03)" font-size="59.6" text-anchor="end">-1.00x10<tspan font-size="36.5" dy="-31.5">-2</tspan></text>
<text transform="translate(406 1593.3) scale(1 1.03)" font-size="59.6" text-anchor="end">-1.25x10<tspan font-size="36.5" dy="-31.5">-2</tspan></text>
<clipPath id="ca"><rect x="0" y="0" width="2318" height="1950"/></clipPath>
<g clip-path="url(#ca)">
<text transform="translate(458 1670.5) scale(1 1.03)" font-size="59.6" text-anchor="middle">0.2</text>
<text transform="translate(641 1670.5) scale(1 1.03)" font-size="59.6" text-anchor="middle">0.3</text>
<text transform="translate(823.9 1670.5) scale(1 1.03)" font-size="59.6" text-anchor="middle">0.4</text>
<text transform="translate(1006.8 1670.5) scale(1 1.03)" font-size="59.6" text-anchor="middle">0.5</text>
<text transform="translate(1189.8 1670.5) scale(1 1.03)" font-size="59.6" text-anchor="middle">0.6</text>
<text transform="translate(1372.8 1670.5) scale(1 1.03)" font-size="59.6" text-anchor="middle">0.7</text>
<text transform="translate(1555.7 1670.5) scale(1 1.03)" font-size="59.6" text-anchor="middle">0.8</text>
<text transform="translate(1738.6 1670.5) scale(1 1.03)" font-size="59.6" text-anchor="middle">0.9</text>
<text transform="translate(1921.6 1670.5) scale(1 1.03)" font-size="59.6" text-anchor="middle">1.0</text>
<text transform="translate(2104.6 1670.5) scale(1 1.03)" font-size="59.6" text-anchor="middle">1.1</text>
<text transform="translate(2287.5 1670.5) scale(1 1.03)" font-size="59.6" text-anchor="middle">1.2</text>
</g>
</g>
<text class="tt" x="1138" y="1797" font-size="80.4">E (V vs RHE)</text>
<text class="tt" transform="translate(105 1069.5) rotate(-90)" font-size="81.5">Current (mA)</text>
</g>
<text transform="translate(1335.9 1901) scale(0.885 1)" font-size="93" text-anchor="middle" style="font-family:'DejaVu Serif Condensed','DejaVu Serif','Liberation Serif',serif">(a)</text>
<g id="chart-b" filter="url(#bl)">
<path d="M545.2 1950.5V3497M733.8 1950.5V3497M922.2 1950.5V3497M1110.8 1950.5V3497M1299.2 1950.5V3497M1487.8 1950.5V3497M1676.2 1950.5V3497M1864.8 1950.5V3497M2053.2 1950.5V3497M2241.8 1950.5V3497M451 2061.8H2336M451 2279.4H2336M451 2496.9H2336M451 2714.5H2336M451 2932.1H2336M451 3149.6H2336M451 3367.2H2336" fill="none" stroke="#d8d8d8" stroke-width="2.8" stroke-dasharray="3 3"/>
<path d="M638.8 1950.5V3497M827.3 1950.5V3497M1015.8 1950.5V3497M1204.3 1950.5V3497M1392.8 1950.5V3497M1581.3 1950.5V3497M1769.8 1950.5V3497M1958.3 1950.5V3497M2146.8 1950.5V3497" fill="none" stroke="#bebebe" stroke-width="2.6" stroke-dasharray="5 4"/>
<path d="M451 2170.6H2336M451 2388.1H2336M451 2605.7H2336M451 2823.3H2336M451 3040.9H2336M451 3258.4H2336M451 3476H2336" fill="none" stroke="#bebebe" stroke-width="2.6" stroke-dasharray="6 3"/>
<g fill="#ff0000"><rect x="699.1" y="3143.6" width="10.4" height="9.6" rx="3.5"/><rect x="699.1" y="3180" width="10.4" height="9.6" rx="3.5"/><rect x="740.5" y="3135.4" width="10.4" height="9.6" rx="3.5"/><rect x="766.9" y="3064.2" width="10.4" height="9.6" rx="3.5"/><rect x="814.8" y="3070.9" width="10.4" height="9.6" rx="3.5"/><rect x="788.4" y="3132" width="10.4" height="9.6" rx="3.5"/><rect x="859.5" y="3095.7" width="10.4" height="9.6" rx="3.5"/><rect x="829.8" y="3163.5" width="10.4" height="9.6" rx="3.5"/><rect x="867.8" y="3209.8" width="10.4" height="9.6" rx="3.5"/><rect x="877.7" y="3221.2" width="10.4" height="9.6" rx="3.5"/><rect x="904.2" y="3102.2" width="10.4" height="9.6" rx="3.5"/><rect x="919" y="3262" width="10.4" height="9.6" rx="3.5"/><rect x="962" y="3262.7" width="10.4" height="9.6" rx="3.5"/><rect x="1000.1" y="3218" width="10.4" height="9.6" rx="3.5"/><rect x="980.2" y="3026.2" width="10.4" height="9.6" rx="3.5"/><rect x="1005" y="2976.6" width="10.4" height="9.6" rx="3.5"/><rect x="1038.8" y="3127.1" width="10.4" height="9.6" rx="3.5"/><rect x="1066.2" y="3034.5" width="10.4" height="9.6" rx="3.5"/><rect x="1080.4" y="2988.2" width="10.4" height="9.6" rx="3.5"/><rect x="1023.2" y="3173.2" width="10.4" height="9.6" rx="3.5"/><rect x="1056.3" y="3080.8" width="10.4" height="9.6" rx="3.5"/><rect x="1040.3" y="2887.7" width="10.4" height="9.6" rx="3.5"/><rect x="1071.1" y="2796.8" width="10.4" height="9.6" rx="3.5"/><rect x="1088.3" y="2747.8" width="10.4" height="9.6" rx="3.5"/><rect x="1116.4" y="2658.5" width="10.4" height="9.6" rx="3.5"/><rect x="1146.1" y="2573.2" width="10.4" height="9.6" rx="3.5"/><rect x="1103.8" y="2897.6" width="10.4" height="9.6" rx="3.5"/><rect x="1126.3" y="2806.7" width="10.4" height="9.6" rx="3.5"/><rect x="1138.8" y="2758.1" width="10.4" height="9.6" rx="3.5"/><rect x="1161.7" y="2669.4" width="10.4" height="9.6" rx="3.5"/><rect x="1185.3" y="2577.2" width="10.4" height="9.6" rx="3.5"/><rect x="1194.7" y="2430.5" width="10.4" height="9.6" rx="3.5"/><rect x="1233" y="2339.6" width="10.4" height="9.6" rx="3.5"/><rect x="1327.9" y="2203.3" width="10.4" height="9.6" rx="3.5"/><rect x="1227.1" y="2439.7" width="10.4" height="9.6" rx="3.5"/><rect x="1262.5" y="2348.8" width="10.4" height="9.6" rx="3.5"/><rect x="1360" y="2217.2" width="10.4" height="9.6" rx="3.5"/><rect x="1451.9" y="2184.2" width="10.4" height="9.6" rx="3.5"/><rect x="1419.8" y="2158.6" width="10.4" height="9.6" rx="3.5"/><rect x="1557.7" y="2144.4" width="10.4" height="9.6" rx="3.5"/><rect x="1648" y="2142.1" width="10.4" height="9.6" rx="3.5"/><rect x="1786.3" y="2140.2" width="10.4" height="9.6" rx="3.5"/><rect x="1589.1" y="2173.2" width="10.4" height="9.6" rx="3.5"/><rect x="1680.1" y="2170.2" width="10.4" height="9.6" rx="3.5"/><rect x="1854.6" y="2139.4" width="10.4" height="9.6" rx="3.5"/><rect x="1946.5" y="2138.2" width="10.4" height="9.6" rx="3.5"/><rect x="2083.8" y="2135.5" width="10.4" height="9.6" rx="3.5"/><rect x="2174.8" y="2133.8" width="10.4" height="9.6" rx="3.5"/><rect x="1772.8" y="2167.6" width="10.4" height="9.6" rx="3.5"/><rect x="1818.2" y="2165.9" width="10.4" height="9.6" rx="3.5"/><rect x="1863.8" y="2164.9" width="10.4" height="9.6" rx="3.5"/><rect x="1910.1" y="2162.6" width="10.4" height="9.6" rx="3.5"/><rect x="1999.4" y="2159.2" width="10.4" height="9.6" rx="3.5"/><rect x="2046.4" y="2157" width="10.4" height="9.6" rx="3.5"/><rect x="2092" y="2155" width="10.4" height="9.6" rx="3.5"/><rect x="2138.3" y="2152" width="10.4" height="9.6" rx="3.5"/><rect x="2184.6" y="2148.4" width="10.4" height="9.6" rx="3.5"/></g>
<path d="M685.4 3197.4 L696.8 3167.3M717.4 3120 L739.2 3090.9M782.9 3064.1 L800 3065 L816 3070M858.8 3093 L890.4 3103M936 3092 L963.8 3064.2M991.6 3015.6 L1009 2985.2M1027.3 2941.5 L1040.5 2909.7M1055.7 2863.7 L1067.8 2834.3M1081.1 2787.7 L1092.6 2755.9M1106.4 2711.6 L1115.9 2681.6M1130.7 2633.9 L1142.1 2603.8M1157 2556.2 L1167 2526.4M1181.9 2481.9 L1193.3 2451.8M1211.7 2404.2 L1223.1 2374.1M1246.7 2328.3 L1262.5 2297.9M1291.7 2254.1 L1318.4 2223.4M1365.2 2184.7 L1395.2 2173.9M1441.4 2159.5 L1472.8 2156.1M1514.1 2151.8 L1550.5 2150.3M1593.5 2147.6 L1626.5 2147.6M1669.5 2146.6 L1703.5 2146.6M1744 2145.2 L1778.5 2145.2M1811.4 2144.3 L1845 2144.3M1888.1 2143.3 L1921.1 2143.3M1965.8 2142 L2000.5 2142M2041.9 2141 L2074.9 2141M2117.9 2139.6 L2151.5 2139.6M704.3 3182.9 L732.5 3150.3M776.2 3125.3 L792 3130 L809.5 3136.9M849.8 3178.4 L876.4 3209.1M894.7 3232.6 L927.3 3259.2M968.9 3262.2 L1003.6 3224.6M1019.6 3182.6 L1035.6 3150.6M1049.1 3104.7 L1060.6 3074.7M1072.3 3028.7 L1085.4 2996.9M1096.1 2951.1 L1103.8 2921.4M1114.9 2875.2 L1122.6 2845.4M1133.8 2797.6 L1143.3 2765.9M1153.6 2721.4 L1160.6 2691.4M1172.4 2645.4 L1180.4 2615.4M1193.4 2567.8 L1203.4 2537.9M1216.4 2491.6 L1225 2461.8M1241.3 2414 L1252 2384.1M1273.8 2338.2 L1290.6 2307.9M1319.4 2263.5 L1349.5 2233.1M1395.1 2204.1 L1426.6 2194.6M1471.2 2185.8 L1504.2 2183.5M1546.5 2179.5 L1580.2 2177.4M1623.3 2174.9 L1656.3 2174.1M1699.3 2173 L1734 2172.4M1773.7 2171.2 L1810.3 2168.6M1853.4 2166.6 L1888 2165.8M1931.1 2164 L1964.1 2163.4M2007.1 2160.6 L2041.2 2158.2M2084.2 2156.3 L2117.2 2154.2M2160.8 2148.5 L2194 2141.5" fill="none" stroke="#000" stroke-width="7.8" stroke-linejoin="round" stroke-linecap="round"/>
<rect x="1687" y="2365" width="496.5" height="207.5" fill="#a4a4a4"/>
<rect x="1684.9" y="2362.3" width="494.8" height="206.3" fill="#fff" stroke="#5a5a5a" stroke-width="3.2"/>
<g fill="#ff0000"><rect x="1715.2" y="2412.8" width="12.5" height="10.5" rx="3"/><rect x="1761.3" y="2412.8" width="12.5" height="10.5" rx="3"/><rect x="1807.7" y="2412.8" width="12.5" height="10.5" rx="3"/><rect x="1853.5" y="2412.8" width="12.5" height="10.5" rx="3"/></g>
<path d="M1715.5 2513.7H1755M1793 2513.7H1832.5" stroke="#000" stroke-width="8.6" fill="none"/>
<g class="lg"><text transform="translate(1912.5 2444.6) scale(1 1.04)" font-size="74.5">Before</text>
<text transform="translate(1910 2540.3) scale(1 1.04)" font-size="74.5">After</text></g>
<path d="M451 3497V3532M545.2 3497V3517M639.5 3497V3532M733.8 3497V3517M828 3497V3532M922.2 3497V3517M1016.5 3497V3532M1110.8 3497V3517M1205 3497V3532M1299.2 3497V3517M1393.5 3497V3532M1487.8 3497V3517M1582 3497V3532M1676.2 3497V3517M1770.5 3497V3532M1864.8 3497V3517M1959 3497V3532M2053.2 3497V3517M2147.5 3497V3532M2241.8 3497V3517M2336 3497V3532M451 1953H416M451 2061.8H431M451 2170.6H416M451 2279.4H431M451 2388.1H416M451 2496.9H431M451 2605.7H416M451 2714.5H431M451 2823.3H416M451 2932.1H431M451 3040.9H416M451 3149.6H431M451 3258.4H416M451 3367.2H431M451 3476H416" fill="none" stroke="#000" stroke-width="8.5"/>
<rect x="451" y="1950.5" width="1885" height="1546.5" fill="none" stroke="#000" stroke-width="9"/>
<g class="tk b">
<text transform="translate(397 1970.5) scale(1 1.05)" font-size="62" text-anchor="end">0.25</text>
<text transform="translate(397 2188.1) scale(1 1.05)" font-size="62" text-anchor="end">0.00</text>
<text transform="translate(397 2405.6) scale(1 1.05)" font-size="62" text-anchor="end">-0.25</text>
<text transform="translate(397 2623.2) scale(1 1.05)" font-size="62" text-anchor="end">-0.50</text>
<text transform="translate(397 2840.8) scale(1 1.05)" font-size="62" text-anchor="end">-0.75</text>
<text transform="translate(397 3058.4) scale(1 1.05)" font-size="62" text-anchor="end">-1.00</text>
<text transform="translate(397 3275.9) scale(1 1.05)" font-size="62" text-anchor="end">-1.25</text>
<text transform="translate(397 3493.5) scale(1 1.05)" font-size="62" text-anchor="end">-1.51</text>
<clipPath id="cb"><rect x="0" y="1950" width="2360.5" height="1900"/></clipPath>
<g clip-path="url(#cb)">
<text transform="translate(450 3599) scale(1 1.05)" font-size="62" text-anchor="middle">0.2</text>
<text transform="translate(638.5 3599) scale(1 1.05)" font-size="62" text-anchor="middle">0.3</text>
<text transform="translate(827 3599) scale(1 1.05)" font-size="62" text-anchor="middle">0.4</text>
<text transform="translate(1015.5 3599) scale(1 1.05)" font-size="62" text-anchor="middle">0.5</text>
<text transform="translate(1204 3599) scale(1 1.05)" font-size="62" text-anchor="middle">0.6</text>
<text transform="translate(1392.5 3599) scale(1 1.05)" font-size="62" text-anchor="middle">0.7</text>
<text transform="translate(1581 3599) scale(1 1.05)" font-size="62" text-anchor="middle">0.8</text>
<text transform="translate(1769.5 3599) scale(1 1.05)" font-size="62" text-anchor="middle">0.9</text>
<text transform="translate(1958 3599) scale(1 1.05)" font-size="62" text-anchor="middle">1.0</text>
<text transform="translate(2146.5 3599) scale(1 1.05)" font-size="62" text-anchor="middle">1.1</text>
<text transform="translate(2335 3599) scale(1 1.05)" font-size="62" text-anchor="middle">1.2</text>
</g>
</g>
<text class="tt" x="1126" y="3691.4" font-size="76">E (V vs RHE)</text>
<text class="tt" transform="translate(240.5 3219.5) rotate(-90) scale(1 1.06)" font-size="77.75">Current density (mA/cm<tspan dy="-38.5" dx="-4" font-size="76">2</tspan><tspan dy="38.5" dx="2">)</tspan></text>
</g>
<text transform="translate(1330.4 3789.5) scale(0.885 1)" font-size="93" text-anchor="middle" style="font-family:'DejaVu Serif Condensed','DejaVu Serif','Liberation Serif',serif">(b)</text>
</svg></body></html>
